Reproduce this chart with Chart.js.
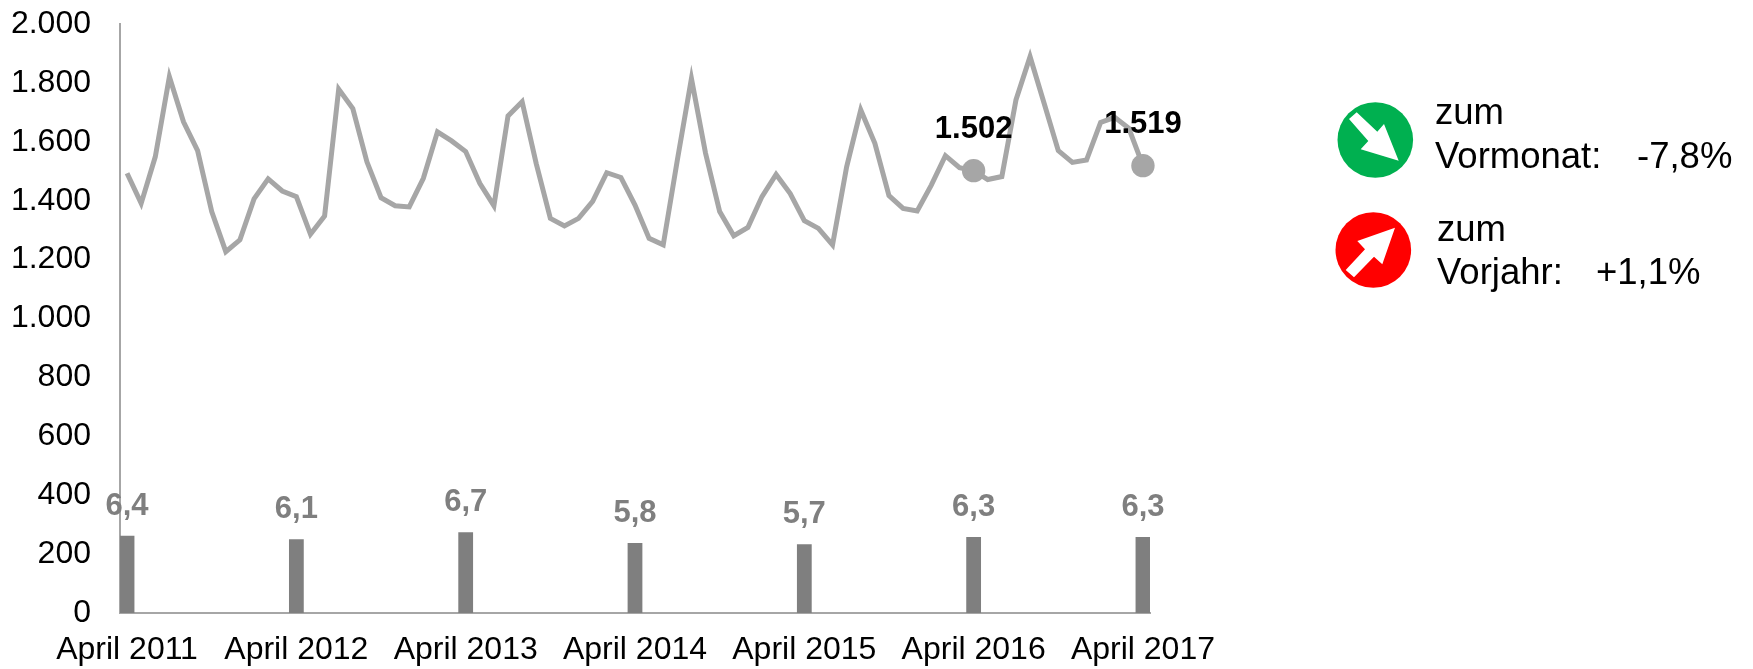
<!DOCTYPE html>
<html lang="de">
<head>
<meta charset="utf-8">
<title>Chart</title>
<script src="https://cdn.jsdelivr.net/npm/chart.js@4"></script>
<style>
html,body{margin:0;padding:0;background:#fff;width:1753px;height:669px;overflow:hidden}
#wrap{position:relative;width:1753px;height:669px}
canvas{position:absolute;left:0;top:0}
#icons{position:absolute;left:0;top:0}
.t{position:absolute;font:36.5px "Liberation Sans",Arial,sans-serif;color:#000;white-space:pre;line-height:44px}
</style>
</head>
<body>
<div id="wrap">
<canvas id="c" width="1753" height="669"></canvas>
<svg id="icons" width="1753" height="669">
  <circle cx="1375.3" cy="140" r="37.8" fill="#00b050"/>
  <polygon fill="#fff" points="1349,119 1356.7,112.3 1377.3,131.7 1384,124 1398.7,160.7 1360.7,149.3 1368.3,141"/>
  <circle cx="1373.3" cy="250" r="37.8" fill="#ff0000"/>
  <polygon fill="#fff" points="1345.7,270 1354,277.3 1374,256.7 1382.3,264.3 1395,227.7 1357.3,241 1365,249.3"/>
</svg>
<div class="t" style="left:1435px;top:90px">zum</div>
<div class="t" style="left:1435px;top:134px">Vormonat:</div>
<div class="t" style="left:1637px;top:134px">-7,8%</div>
<div class="t" style="left:1437px;top:207px">zum</div>
<div class="t" style="left:1437px;top:250px">Vorjahr:</div>
<div class="t" style="left:1596px;top:250px">+1,1%</div>
</div>
<script>
const categories = [
 "April 2011","Mai 2011","Juni 2011","Juli 2011","August 2011","September 2011","Oktober 2011","November 2011","Dezember 2011","Januar 2012","Februar 2012","März 2012",
 "April 2012","Mai 2012","Juni 2012","Juli 2012","August 2012","September 2012","Oktober 2012","November 2012","Dezember 2012","Januar 2013","Februar 2013","März 2013",
 "April 2013","Mai 2013","Juni 2013","Juli 2013","August 2013","September 2013","Oktober 2013","November 2013","Dezember 2013","Januar 2014","Februar 2014","März 2014",
 "April 2014","Mai 2014","Juni 2014","Juli 2014","August 2014","September 2014","Oktober 2014","November 2014","Dezember 2014","Januar 2015","Februar 2015","März 2015",
 "April 2015","Mai 2015","Juni 2015","Juli 2015","August 2015","September 2015","Oktober 2015","November 2015","Dezember 2015","Januar 2016","Februar 2016","März 2016",
 "April 2016","Mai 2016","Juni 2016","Juli 2016","August 2016","September 2016","Oktober 2016","November 2016","Dezember 2016","Januar 2017","Februar 2017","März 2017",
 "April 2017"];
const monthlyValues = [
 1493,1391,1549,1821,1668,1570,1363,1227,1267,1406,1474,1433,
 1414,1286,1348,1779,1713,1532,1410,1383,1379,1476,1634,1603,
 1567,1459,1383,1688,1736,1526,1340,1314,1340,1398,1495,1479,
 1385,1272,1250,1538,1815,1561,1363,1281,1309,1414,1489,1424,
 1332,1306,1250,1515,1708,1595,1417,1374,1365,1453,1553,1512,
 1502,1472,1482,1742,1889,1730,1570,1530,1538,1666,1683,1646,
 1519];
const aprilLabels = ["April 2011","April 2012","April 2013","April 2014","April 2015","April 2016","April 2017"];
const aprilShares = [6.4,6.1,6.7,5.8,5.7,6.3,6.3];
const highlighted = ["April 2016","April 2017"];
const yTicks = [0,200,400,600,800,1000,1200,1400,1600,1800,2000];

const barSeries = categories.map(c => {
  const k = aprilLabels.indexOf(c);
  return k < 0 ? null : aprilShares[k];
});
const deNum = v => String(v).replace(/\B(?=(\d{3})+$)/g, ".");
const FONT = '"Liberation Sans", Arial, sans-serif';

const labelPlugin = {
  id: "valueLabels",
  afterDatasetsDraw(chart) {
    const ctx = chart.ctx;
    ctx.save();
    ctx.textAlign = "center";
    ctx.textBaseline = "middle";
    ctx.font = "bold 31px " + FONT;
    ctx.fillStyle = "#7f7f7f";
    chart.getDatasetMeta(0).data.forEach((el, i) => {
      if (barSeries[i] === null) return;
      ctx.fillText(String(barSeries[i]).replace(".", ","), el.x, el.y - 30);
    });
    ctx.fillStyle = "#000";
    chart.getDatasetMeta(1).data.forEach((el, i) => {
      if (!highlighted.includes(categories[i])) return;
      ctx.fillText(deNum(monthlyValues[i]), el.x, el.y - 41);
    });
    ctx.restore();
  }
};

new Chart(document.getElementById("c"), {
  type: "bar",
  plugins: [labelPlugin],
  data: {
    labels: categories,
    datasets: [
      { type: "bar", data: barSeries, yAxisID: "y2", backgroundColor: "#7f7f7f",
        barPercentage: 1, categoryPercentage: 1, order: 2 },
      { type: "line", data: monthlyValues, yAxisID: "y", borderColor: "#a6a6a6", borderWidth: 5,
        tension: 0, borderJoinStyle: "miter", clip: false, order: 1,
        backgroundColor: "#a6a6a6",
        pointBackgroundColor: "#a6a6a6", pointBorderWidth: 0,
        pointRadius: c => highlighted.includes(categories[c.dataIndex]) ? 11.7 : 0,
        pointHoverRadius: 0 }
    ]
  },
  options: {
    responsive: false,
    animation: false,
    events: [],
    layout: { padding: { top: 24, right: 603, left: 0, bottom: 0 } },
    plugins: { legend: { display: false }, tooltip: { enabled: false }, title: { display: false } },
    scales: {
      x: {
        offset: true,
        grid: { display: false, drawTicks: false },
        border: { display: true, color: "#a6a6a6", width: 2 },
        afterFit: s => { s.height = 56; s.paddingTop = 0; s.paddingBottom = 0; },
        ticks: {
          autoSkip: false, maxRotation: 0, minRotation: 0, padding: 18, color: "#000",
          font: { family: FONT, size: 32 },
          callback(v, i) { const l = categories[i]; return aprilLabels.includes(l) ? l : ""; }
        }
      },
      y: {
        min: 0, max: 2000,
        afterFit: s => { s.width = 120; s.paddingTop = 0; s.paddingBottom = 0; },
        afterBuildTicks: s => { s.ticks = yTicks.map(value => ({ value })); },
        grid: { display: false, drawTicks: false },
        border: { display: true, color: "#a6a6a6", width: 2 },
        ticks: {
          padding: 29, color: "#000",
          font: { family: FONT, size: 32 },
          callback: v => deNum(v)
        }
      },
      y2: { min: 0, max: 49, display: false }
    }
  }
});
</script>
</body>
</html>
